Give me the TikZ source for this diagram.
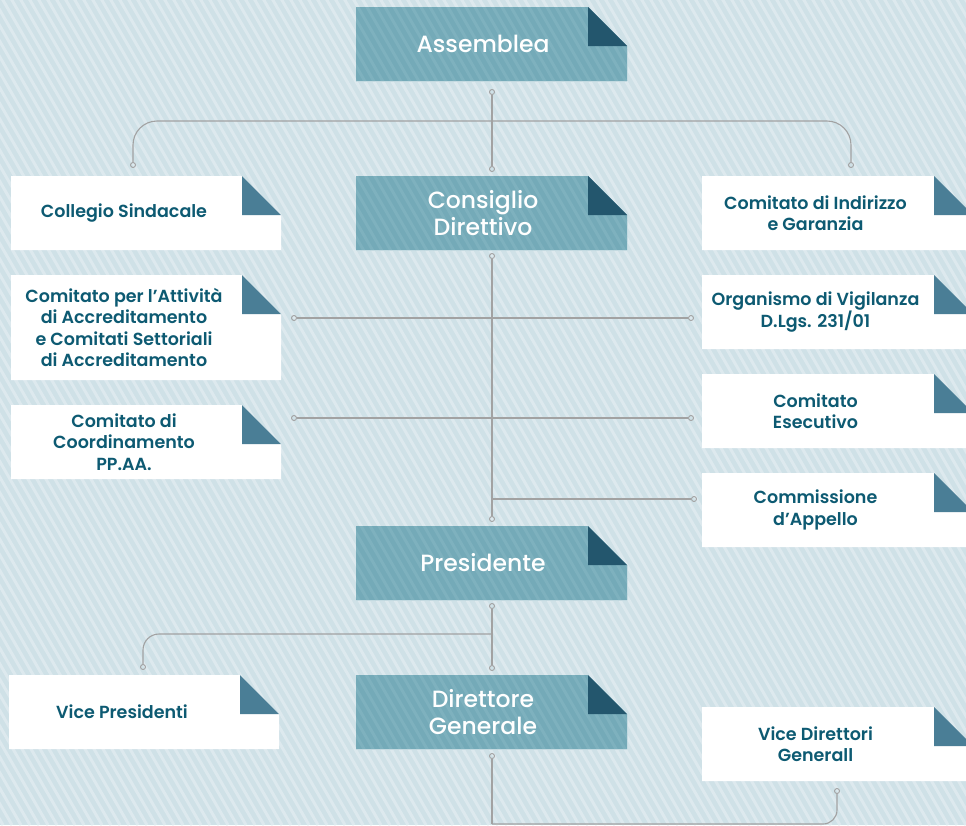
\documentclass[tikz,border=0pt]{standalone}
\usepackage{fontspec}
\IfFontExistsTF{Poppins Medium}{\newfontfamily\medfont{Poppins Medium}}{\newfontfamily\medfont{Poppins}[FakeBold=1.2]}
\IfFontExistsTF{Poppins SemiBold}{\newfontfamily\semifont{Poppins SemiBold}}{\newfontfamily\semifont{Poppins}[FakeBold=2]}
\usetikzlibrary{calc}
\definecolor{bgc}{HTML}{CFE1E7}
\definecolor{stripec}{HTML}{DDE9EE}
\definecolor{tealc}{HTML}{74AAB8}
\definecolor{tealstripe}{HTML}{7EB1BE}
\definecolor{tealdark}{HTML}{23566D}
\definecolor{whitetri}{HTML}{4A7E96}
\definecolor{txtc}{HTML}{0D5A72}
\definecolor{linec}{HTML}{A2A2A2}
\newcommand\tealbox[6]{%
  \fill[tealc] (#2,#3) -- ({#4-39},#3) -- (#4,{#3+39}) -- (#4,#5) -- (#2,#5) -- cycle;
  \begin{scope}
    \clip (#2,#3) -- ({#4-39},#3) -- (#4,{#3+39}) -- (#4,#5) -- (#2,#5) -- cycle;
    \foreach \k in {-60,...,110}{\draw[tstripe] (\k*9,-5) -- ++(480,830);}
  \end{scope}
  \fill[tealdark] ({#4-39},#3) -- ({#4-39},{#3+39}) -- (#4,{#3+39}) -- cycle;
  \node[boxarea, minimum width={(#4-#2)*1pt}, minimum height={(#5-#3)*1pt}] (#1) at ({(#2+#4)/2},{(#3+#5)/2}) {};
  \node[tealtext] (#1t) at ([xshift=-8.5pt]#1.center) {#6};
}
\newcommand\whitebox[6]{%
  \fill[white] (#2,#3) -- ({#4-39},#3) -- (#4,{#3+39}) -- (#4,#5) -- (#2,#5) -- cycle;
  \fill[whitetri] ({#4-39},#3) -- ({#4-39},{#3+39}) -- (#4,{#3+39}) -- cycle;
  \node[boxarea, minimum width={(#4-#2)*1pt}, minimum height={(#5-#3)*1pt}] (#1) at ({(#2+#4)/2},{(#3+#5)/2}) {};
  \node[whitetext] (#1t) at ([xshift=-22pt]#1.center) {#6};
}
\begin{document}
\begin{tikzpicture}[x=1pt,y=-1pt,
  conn/.style={draw=linec, line width=1.1pt},
  dot/.style={circle, draw=linec, line width=0.9pt, inner sep=0pt, minimum size=5pt},
  boxarea/.style={rectangle, inner sep=0pt, outer sep=0pt, draw=none},
  tealtext/.style={text=white, font=\medfont\fontsize{23.5}{27}\selectfont, align=center, inner sep=0pt},
  whitetext/.style={text=txtc, font=\semifont\fontsize{17.5}{21.5}\selectfont, align=center, inner sep=0pt},
  bgstripe/.style={draw=stripec, line width=3pt},
  tstripe/.style={draw=tealstripe, line width=3pt},
]
\useasboundingbox (0,0) rectangle (966,825);
\clip (0,0) rectangle (966,825);
\fill[bgc] (0,0) rectangle (966,825);
\foreach \k in {-60,...,110}{\draw[bgstripe] (\k*9,-5) -- ++(480,830);}

% boxes
\tealbox{asm}{356}{7}{627}{81}{Assemblea}
\tealbox{cd}{356}{176}{627}{250}{Consiglio\\Direttivo}
\tealbox{pres}{356}{526}{627}{600}{Presidente}
\tealbox{dg}{356}{675}{627}{749}{Direttore\\Generale}

\whitebox{cs}{11}{176}{281}{250}{Collegio Sindacale}
\whitebox{caa}{11}{275}{281}{380}{Comitato per l’Attività\\di Accreditamento\\e Comitati Settoriali\\di Accreditamento}
\whitebox{ccp}{11}{405}{281}{479}{Comitato di\\Coordinamento\\PP.AA.}
\whitebox{vp}{9}{675}{279}{749}{Vice Presidenti}

\whitebox{cig}{702}{176}{973}{250}{Comitato di Indirizzo\\e Garanzia}
\whitebox{odv}{702}{275}{973}{349}{Organismo di Vigilanza\\D.Lgs. 231/01}
\whitebox{ce}{702}{374}{973}{448}{Comitato\\Esecutivo}
\whitebox{cda}{702}{473}{973}{547}{Commissione\\d’Appello}
\whitebox{vdg}{702}{707}{973}{781}{Vice Direttori\\Generall}

% dots
\node[dot] (d1) at (492,92) {};
\node[dot] (d2) at (492,169) {};
\node[dot] (dcs) at (133,165) {};
\node[dot] (dcig) at (851,165) {};
\node[dot] (d3) at (492,256) {};
\node[dot] (d4) at (492,519) {};
\node[dot] (dcaa) at (294,318) {};
\node[dot] (dodv) at (691,318) {};
\node[dot] (dccp) at (294,418) {};
\node[dot] (dce) at (691,418) {};
\node[dot] (dcda) at (694,499) {};
\node[dot] (d5) at (492,606) {};
\node[dot] (d6) at (492,668) {};
\node[dot] (dvp) at (143,667) {};
\node[dot] (d7) at (492,756) {};
\node[dot] (dvdg) at (837,791) {};
\coordinate (j1) at (492,121);
\coordinate (j3) at (492,499);
\coordinate (j4) at (492,634);
\coordinate (jb) at (492,824);

% connectors
\draw[conn] (d1) -- (d2);
\draw[conn, rounded corners=24pt] (dcs) |- (j1) -| (dcig);
\draw[conn] (d3) -- (d4);
\draw[conn] (dcaa) -- (dodv);
\draw[conn] (dccp) -- (dce);
\draw[conn] (j3) -- (dcda);
\draw[conn] (d5) -- (d6);
\draw[conn, rounded corners=16pt] (j4) -| (dvp);
\draw[conn] (d7) -- (jb);
\draw[conn, rounded corners=14pt] (jb) -| (dvdg);
\end{tikzpicture}
\end{document}
